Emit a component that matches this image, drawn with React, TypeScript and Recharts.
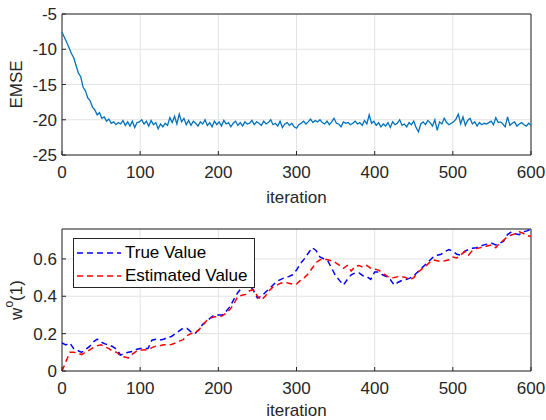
import React from 'react'
import {
  LineChart,
  Line,
  XAxis,
  YAxis,
  CartesianGrid,
  ReferenceArea,
  Legend,
} from 'recharts'

const FONT = '"Liberation Sans", Arial, Helvetica, sans-serif'
const AXIS = '#262626'
const GRID = '#e3e3e3'

const xTicks = [0, 100, 200, 300, 400, 500, 600]
const emseTicks = [-25, -20, -15, -10, -5]
const wTicks = [0, 0.2, 0.4, 0.6]

// EMSE in dB, every 3rd iteration (0..600)
const emse = [
  -7.6, -8.3, -9.0, -9.8, -10.6, -11.2, -12.3, -13.4, -13.9, -15.4,
  -15.9, -16.9, -17.3, -18.2, -18.6, -19.3, -19.0, -19.8, -19.6, -20.2,
  -19.9, -20.5, -20.3, -20.7, -20.4, -20.6, -20.1, -20.8, -20.3, -20.9,
  -20.2, -21.1, -20.4, -20.3, -20.0, -20.6, -20.2, -20.9, -20.1, -20.7,
  -20.4, -21.3, -20.6, -21.0, -20.5, -20.8, -19.7, -20.4, -19.5, -20.6,
  -19.2, -20.3, -19.8, -20.7, -20.1, -20.8, -20.2, -20.5, -20.9, -20.3,
  -20.6, -20.0, -20.8, -20.4, -21.0, -20.2, -20.7, -20.3, -20.9, -20.1,
  -20.6, -20.4, -21.0, -20.5, -20.2, -20.8, -20.4, -20.9, -20.3, -20.6,
  -20.5, -20.1, -20.7, -20.3, -20.5, -20.8, -20.2, -20.6, -20.4, -20.0,
  -20.7, -20.5, -20.9, -20.2, -21.1, -20.6, -20.4, -20.8, -20.5, -21.0,
  -21.2, -20.7, -20.5, -20.2, -20.6, -20.3, -19.9, -20.4, -20.1, -20.3,
  -20.0, -20.4, -20.6, -20.2, -20.7, -20.3, -19.8, -20.5, -20.6, -21.0,
  -20.3, -20.5, -20.4, -20.7, -20.5, -20.2, -20.6, -20.4, -20.8, -20.1,
  -20.6, -19.3, -20.5, -20.2, -20.8, -20.4, -21.0, -20.6, -20.9, -20.4,
  -21.1, -20.3, -20.7, -20.5, -20.0, -20.8, -20.6, -21.0, -20.4, -20.7,
  -20.2, -21.1, -21.7, -20.6, -20.3, -20.7, -20.1, -20.4, -20.9, -20.0,
  -21.5, -20.3, -20.6, -19.8, -20.4, -20.7, -20.5, -20.3, -19.9, -19.2,
  -20.6, -19.6, -20.8, -20.1, -19.8, -20.6, -20.3, -20.9, -20.4, -20.7,
  -20.5, -20.6, -20.4, -20.2, -20.7, -19.7, -20.4, -20.3, -20.6, -21.0,
  -19.6, -20.8, -20.5, -20.3, -20.9, -20.6, -20.4, -20.7, -20.9, -20.5,
  -20.8,
]

// w^o(1), every 5th iteration (0..600)
const trueValue = [
  0.15, 0.14, 0.15, 0.12, 0.11, 0.10, 0.115, 0.13, 0.155, 0.17,
  0.155, 0.145, 0.14, 0.13, 0.115, 0.085, 0.095, 0.10, 0.105, 0.115,
  0.12, 0.12, 0.12, 0.165, 0.17, 0.165, 0.17, 0.18, 0.185, 0.20,
  0.215, 0.23, 0.228, 0.21, 0.20, 0.22, 0.25, 0.265, 0.285, 0.30,
  0.30, 0.30, 0.32, 0.345, 0.385, 0.42, 0.445, 0.46, 0.46, 0.43,
  0.39, 0.40, 0.42, 0.44, 0.46, 0.48, 0.49, 0.50, 0.505, 0.515,
  0.54, 0.575, 0.60, 0.63, 0.66, 0.645, 0.61, 0.60, 0.59, 0.55,
  0.51, 0.485, 0.46, 0.49, 0.515, 0.525, 0.525, 0.51, 0.505, 0.49,
  0.53, 0.53, 0.515, 0.505, 0.49, 0.46, 0.475, 0.485, 0.49, 0.497,
  0.51, 0.53, 0.55, 0.57, 0.59, 0.61, 0.62, 0.625, 0.64, 0.65,
  0.64, 0.625, 0.62, 0.64, 0.65, 0.657, 0.66, 0.668, 0.675, 0.68,
  0.684, 0.675, 0.684, 0.695, 0.73, 0.745, 0.735, 0.73, 0.745, 0.75,
  0.76,
]

const estimatedValue = [
  0.0, 0.05, 0.10, 0.10, 0.095, 0.088, 0.10, 0.112, 0.125, 0.135,
  0.14, 0.13, 0.12, 0.105, 0.10, 0.08, 0.075, 0.07, 0.09, 0.105,
  0.113, 0.113, 0.115, 0.125, 0.133, 0.135, 0.14, 0.14, 0.142, 0.15,
  0.16, 0.168, 0.19, 0.20, 0.205, 0.22, 0.245, 0.27, 0.283, 0.29,
  0.29, 0.295, 0.31, 0.33, 0.36, 0.40, 0.405, 0.41, 0.43, 0.435,
  0.40, 0.38, 0.40, 0.43, 0.45, 0.46, 0.47, 0.475, 0.47, 0.465,
  0.465, 0.485, 0.50, 0.52, 0.55, 0.58, 0.595, 0.60, 0.595, 0.59,
  0.58, 0.565, 0.55, 0.565, 0.535, 0.56, 0.565, 0.555, 0.565, 0.55,
  0.545, 0.54, 0.525, 0.51, 0.497, 0.50, 0.505, 0.505, 0.50, 0.487,
  0.50, 0.525, 0.545, 0.56, 0.58, 0.595, 0.59, 0.585, 0.59, 0.595,
  0.61, 0.605, 0.62, 0.64, 0.62, 0.645, 0.655, 0.66, 0.665, 0.67,
  0.675, 0.66, 0.685, 0.70, 0.72, 0.728, 0.735, 0.745, 0.737, 0.725,
  0.72,
]

const emseRows = emse.map((v, i) => ({ iteration: i * 3, emse: v }))
const wRows = trueValue.map((v, i) => ({
  iteration: i * 5,
  truth: v,
  estimate: estimatedValue[i],
}))

const tickStyle = { fill: AXIS, fontSize: 17, fontFamily: FONT }

const WLabel = (props: any) => {
  const vb = props.viewBox || {}
  const cx = 16
  const cy = vb.height ? vb.y + vb.height / 2 : 90
  return (
    <text
      x={cx}
      y={cy}
      transform={`rotate(-90, ${cx}, ${cy})`}
      textAnchor="middle"
      dominantBaseline="central"
      fill={AXIS}
      fontSize={17}
      fontFamily={FONT}
    >
      w<tspan dy={-7} fontSize={12}>o</tspan>
      <tspan dy={7}>(1)</tspan>
    </text>
  )
}

const legendItems = [
  { name: 'True Value', color: '#0000ff' },
  { name: 'Estimated Value', color: '#ff0000' },
]

const LegendBox = () => (
  <div
    style={{
      position: 'relative',
      width: 182,
      height: 50,
      boxSizing: 'border-box',
      border: `1px solid ${AXIS}`,
      background: '#fff',
      fontFamily: FONT,
      fontSize: 17,
      color: '#000',
    }}
  >
    {legendItems.map((it, i) => (
      <div
        key={it.name}
        style={{
          position: 'absolute',
          left: 3,
          top: 3 + i * 23,
          height: 22,
          display: 'flex',
          alignItems: 'center',
          whiteSpace: 'nowrap',
        }}
      >
        <svg width={44} height={6} style={{ marginRight: 4 }}>
          <line x1={0} y1={3} x2={44} y2={3} stroke={it.color} strokeWidth={1.5} strokeDasharray="6 4" />
        </svg>
        <span>{it.name}</span>
      </div>
    ))}
  </div>
)

export default function App() {
  return (
    <div style={{ position: 'absolute', left: 0, top: 0, width: 546, height: 420, background: '#fff' }}>
      <LineChart width={546} height={210} data={emseRows} margin={{ top: 14, right: 15, bottom: 0, left: 0 }}>
        <CartesianGrid stroke={GRID} />
        <XAxis
          dataKey="iteration"
          type="number"
          domain={[0, 600]}
          ticks={xTicks}
          interval={0}
          height={55}
          axisLine={false}
          tickSize={-4}
          tickMargin={15}
          tickLine={{ stroke: AXIS }}
          tick={tickStyle}
          label={{ value: 'iteration', position: 'insideBottom', offset: 7, fill: AXIS, fontSize: 17, fontFamily: FONT }}
        />
        <YAxis
          type="number"
          domain={[-25, -5]}
          ticks={emseTicks}
          interval={0}
          width={62}
          axisLine={false}
          tickSize={-4}
          tickMargin={9}
          tickLine={{ stroke: AXIS }}
          tick={tickStyle}
          label={{
            value: 'EMSE',
            angle: -90,
            position: 'insideLeft',
            offset: 16,
            fill: AXIS,
            fontSize: 17,
            fontFamily: FONT,
            style: { textAnchor: 'middle' },
          }}
        />
        <ReferenceArea x1={0} x2={600} y1={-25} y2={-5} fill="none" stroke={AXIS} strokeWidth={1} />
        <Line dataKey="emse" stroke="#0072bd" strokeWidth={1.3} dot={false} isAnimationActive={false} />
      </LineChart>

      <LineChart width={546} height={210} data={wRows} margin={{ top: 19, right: 15, bottom: 0, left: 0 }}>
        <CartesianGrid stroke={GRID} />
        <XAxis
          dataKey="iteration"
          type="number"
          domain={[0, 600]}
          ticks={xTicks}
          interval={0}
          height={49}
          axisLine={false}
          tickSize={-4}
          tickMargin={15}
          tickLine={{ stroke: AXIS }}
          tick={tickStyle}
          label={{ value: 'iteration', position: 'insideBottom', offset: 4, fill: AXIS, fontSize: 17, fontFamily: FONT }}
        />
        <YAxis
          type="number"
          domain={[0, 0.76]}
          allowDataOverflow
          ticks={wTicks}
          interval={0}
          width={62}
          axisLine={false}
          tickSize={-4}
          tickMargin={9}
          tickLine={{ stroke: AXIS }}
          tick={tickStyle}
          label={<WLabel />}
        />
        <ReferenceArea x1={0} x2={600} y1={0} y2={0.76} fill="none" stroke={AXIS} strokeWidth={1} />
        <Line dataKey="truth" name="True Value" stroke="#0000ff" strokeWidth={1.5} strokeDasharray="6 4" dot={false} isAnimationActive={false} />
        <Line dataKey="estimate" name="Estimated Value" stroke="#ff0000" strokeWidth={1.5} strokeDasharray="6 4" dot={false} isAnimationActive={false} />
        <Legend
          layout="horizontal"
          verticalAlign="middle"
          align="center"
          content={<LegendBox />}
          wrapperStyle={{ left: 73, top: 28, width: 182, height: 50 }}
        />
      </LineChart>
    </div>
  )
}
